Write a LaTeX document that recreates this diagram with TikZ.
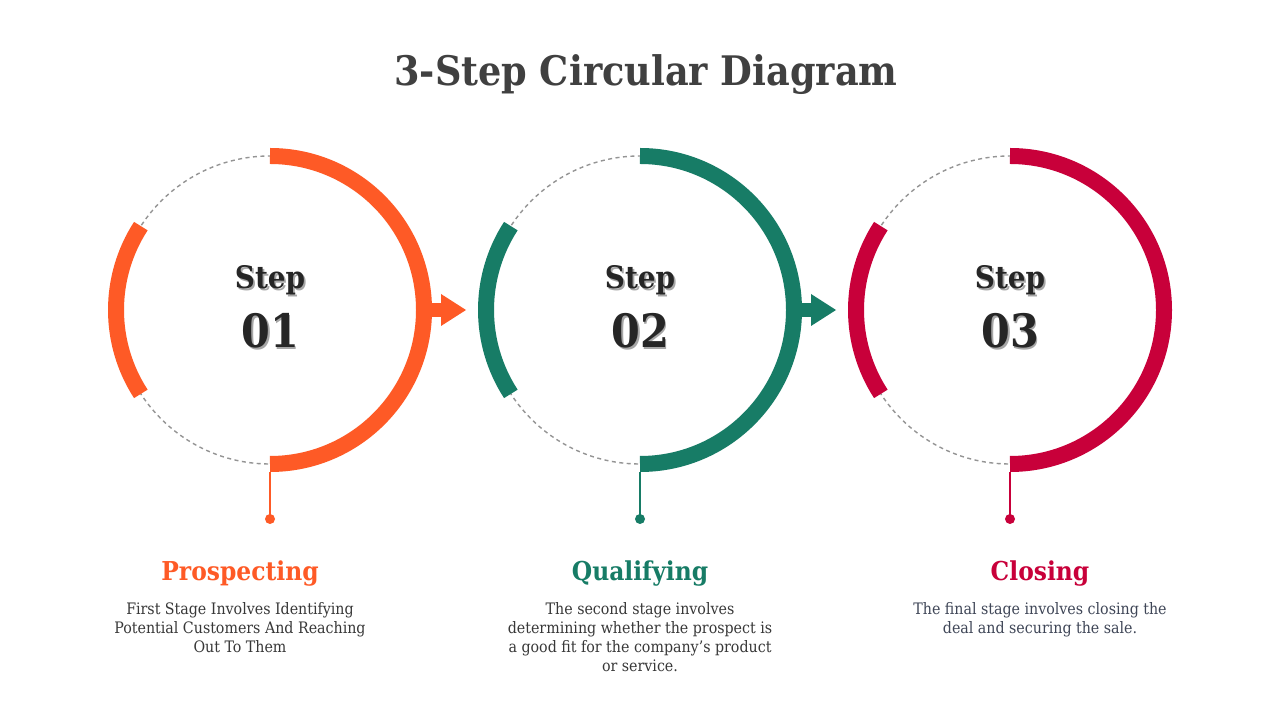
\documentclass[tikz,border=0pt]{standalone}
\usepackage{fontspec}
\setmainfont{DejaVu Serif Condensed}
\begin{document}
\begin{tikzpicture}[x=1pt,y=1pt,
  dashring/.style={draw=black!42, line width=1.4pt, dash pattern=on 4pt off 3.5pt},
  ringarc/.style={line width=16pt, line cap=butt},
  stepword/.style={font=\bfseries\fontsize{31}{31}\selectfont, text=black!85},
  stepnum/.style={font=\bfseries\fontsize{46}{46}\selectfont, text=black!85},
  shadowtxt/.style={text=black!35},
  headtxt/.style={font=\bfseries\fontsize{26}{26}\selectfont},
  bodytxt/.style={font=\fontsize{15.8}{19}\selectfont, align=center, text=black!78},
  titletxt/.style={font=\bfseries\fontsize{40.7}{40.7}\selectfont, text=black!75}
]
\definecolor{corange}{HTML}{FE5A26}
\definecolor{cgreen}{HTML}{177C66}
\definecolor{cred}{HTML}{C8003A}
\definecolor{cbody}{HTML}{3F4657}
\useasboundingbox[fill=white] (0,0) rectangle (1280,720);

\node[titletxt] (title) at (646,645) {3-Step Circular Diagram};

\foreach \cx/\col/\num/\name in {270/corange/01/a, 640/cgreen/02/b, 1010/cred/03/c}{
  \coordinate (ctr\name) at (\cx,410);
  \draw[dashring] (ctr\name) circle[radius=154];
  \draw[ringarc, draw=\col] ([shift={(90:154)}]ctr\name) arc[start angle=90, end angle=-90, radius=154];
  \draw[ringarc, draw=\col] ([shift={(147:154)}]ctr\name) arc[start angle=147, end angle=213, radius=154];
  \coordinate (top\name) at (\cx,248);
  \coordinate (dot\name) at (\cx,201);
  \draw[draw=\col, line width=2.6pt] (top\name) -- (dot\name);
  \fill[\col] (dot\name) circle[radius=5];
  \node[stepword, shadowtxt] at (\cx+1.8,440-1.8) {Step};
  \node[stepword] (word\name) at (\cx,440) {Step};
  \node[stepnum, shadowtxt] at (\cx+1.8,389-1.8) {\num};
  \node[stepnum] (num\name) at (\cx,389) {\num};
}
\foreach \cx/\col in {270/corange, 640/cgreen}{
  \fill[\col] (\cx+158,403) rectangle (\cx+172,417);
  \fill[\col] (\cx+171,426) -- (\cx+196,410) -- (\cx+171,394) -- cycle;
}

\node[headtxt, text=corange] (h1) at (240,146) {Prospecting};
\node[headtxt, text=cgreen] (h2) at (640,146) {Qualifying};
\node[headtxt, text=cred] (h3) at (1040,146) {Closing};

\node[bodytxt, anchor=north] (b1) at (240,121.5) {First Stage Involves Identifying\\Potential Customers And Reaching\\Out To Them};
\node[bodytxt, anchor=north] (b2) at (640,121.5) {The second stage involves\\determining whether the prospect is\\a good fit for the company's product\\or service.};
\node[bodytxt, anchor=north, text=cbody] (b3) at (1040,121.5) {The final stage involves closing the\\deal and securing the sale.};
\end{tikzpicture}
\end{document}
